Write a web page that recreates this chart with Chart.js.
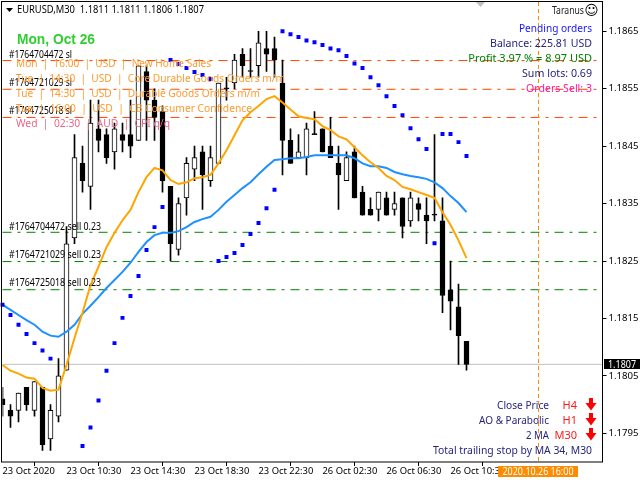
<!DOCTYPE html>
<html>
<head>
<meta charset="utf-8">
<style>html,body{margin:0;padding:0;background:#fff}canvas{display:block}</style>
<script src="https://cdn.jsdelivr.net/npm/chart.js@4"></script>
</head>
<body>
<canvas id="c" width="640" height="480"></canvas>
<script>
const opens  = [1.1801,1.1799,1.1799,1.1803,1.1799,1.1803,1.1794,1.1798,1.1806,1.1829,1.1842,1.1838,1.1848,1.1847,1.1844,1.1847,1.1847,1.1846,1.1858,1.1853,1.1851,1.1838,1.1827,1.1836,1.1841,1.1844,1.1839,1.1842,1.1855,1.1856,1.1861,1.1858,1.1859,1.1862,1.1862,1.1856,1.1846,1.1843,1.1843,1.1847,1.1848,1.1845,1.1842,1.1839,1.1844,1.1837,1.1834,1.1834,1.1836,1.1834,1.1836,1.1832,1.1835,1.1833,1.1833,1.1832,1.1820,1.1817,1.1811];
const highs  = [1.1803,1.1800,1.1802,1.1803,1.1804,1.1803,1.1800,1.1808,1.1831,1.1847,1.1845,1.1853,1.1853,1.1848,1.1849,1.1849,1.1853,1.1859,1.1859,1.1855,1.1852,1.1838,1.1836,1.1843,1.1845,1.1845,1.1845,1.1856,1.1857,1.1861,1.1862,1.1862,1.1865,1.1865,1.1864,1.1860,1.1848,1.1847,1.1849,1.1851,1.1848,1.1850,1.1845,1.1844,1.1845,1.1838,1.1836,1.1837,1.1837,1.1837,1.1836,1.1837,1.1836,1.1836,1.1847,1.1836,1.1825,1.1821,1.1811];
const lows   = [1.1798,1.1796,1.1797,1.1799,1.1798,1.1792,1.1792,1.1797,1.1806,1.1828,1.1837,1.1834,1.1844,1.1842,1.1841,1.1844,1.1843,1.1846,1.1846,1.1846,1.1837,1.1825,1.1826,1.1833,1.1839,1.1834,1.1838,1.1842,1.1853,1.1855,1.1857,1.1857,1.1857,1.1858,1.1857,1.1840,1.1842,1.1843,1.1840,1.1847,1.1844,1.1843,1.1834,1.1839,1.1836,1.1833,1.1833,1.1832,1.1833,1.1833,1.1829,1.1831,1.1832,1.1828,1.1832,1.1816,1.1813,1.1807,1.1806];
const closes = [1.1800,1.1798,1.1802,1.1800,1.1804,1.1793,1.1799,1.1805,1.1828,1.1843,1.1839,1.1849,1.1846,1.1843,1.1848,1.1846,1.1845,1.1859,1.1853,1.1850,1.1839,1.1828,1.1835,1.1842,1.1843,1.1840,1.1843,1.1856,1.1855,1.1860,1.1859,1.1858,1.1863,1.1861,1.1860,1.1846,1.1842,1.1844,1.1848,1.1847,1.1844,1.1843,1.1840,1.1843,1.1836,1.1833,1.1833,1.1837,1.1833,1.1835,1.1831,1.1836,1.1834,1.1832,1.1833,1.1819,1.1818,1.1812,1.1807];
const maFast = [1.18069,1.18059,1.18054,1.18047,1.18045,1.18029,1.18024,1.18026,1.18069,1.18116,1.18160,1.18208,1.18240,1.18274,1.18299,1.18321,1.18339,1.18370,1.18396,1.18412,1.18408,1.18391,1.18384,1.18387,1.18394,1.18396,1.18400,1.18420,1.18443,1.18469,1.18495,1.18509,1.18520,1.18532,1.18537,1.18526,1.18514,1.18502,1.18499,1.18497,1.18485,1.18478,1.18467,1.18462,1.18448,1.18434,1.18422,1.18412,1.18398,1.18391,1.18379,1.18375,1.18370,1.18365,1.18360,1.18335,1.18313,1.18286,1.18255];
const maSlow = [1.18174,1.18165,1.18156,1.18147,1.18139,1.18127,1.18120,1.18118,1.18127,1.18139,1.18158,1.18172,1.18187,1.18203,1.18217,1.18231,1.18247,1.18266,1.18283,1.18295,1.18299,1.18299,1.18302,1.18309,1.18318,1.18323,1.18327,1.18339,1.18353,1.18365,1.18377,1.18387,1.18401,1.18414,1.18426,1.18427,1.18429,1.18429,1.18431,1.18434,1.18434,1.18434,1.18434,1.18434,1.18429,1.18420,1.18415,1.18415,1.18412,1.18405,1.18401,1.18398,1.18396,1.18393,1.18387,1.18377,1.18363,1.18351,1.18335];
const sar    = [1.18174,1.18156,1.18139,1.18123,1.18107,1.18094,1.18080,null,null,null,1.17928,1.17960,1.18007,1.18059,1.18107,1.18151,1.18189,1.18224,1.18269,1.18309,1.18344,1.18600,1.18593,1.18586,1.18579,1.18574,1.18567,1.18250,1.18257,1.18264,1.18278,1.18297,1.18316,1.18342,1.18374,1.18650,1.18645,1.18640,1.18634,1.18631,1.18626,1.18620,1.18617,1.18607,1.18594,1.18586,1.18570,1.18556,1.18537,1.18520,1.18504,1.18481,1.18462,1.18445,1.18281,1.18471,1.18471,1.18457,1.18433];
const stopLevels = [1.18599,1.18549,1.18500];
const sellLevels = [1.18300,1.18249,1.18200];
const currentPrice = 1.1807;
const yTicks = [1.1865,1.1855,1.1845,1.1835,1.1825,1.1815,1.1805,1.1795];
const xTickLabels = ['23 Oct 2020','23 Oct 10:30','23 Oct 14:30','23 Oct 18:30','23 Oct 22:30','26 Oct 02:30','26 Oct 06:30','26 Oct 10:30'];
const barsFri = ['06:30','07:00','07:30','08:00','08:30','09:00','09:30','10:00','10:30','11:00','11:30','12:00','12:30','13:00','13:30','14:00','14:30','15:00','15:30','16:00','16:30','17:00','17:30','18:00','18:30','19:00','19:30','20:00','20:30','21:00','21:30','22:00','22:30','23:00','23:30'];
const barsMon = ['00:00','00:30','01:00','01:30','02:00','02:30','03:00','03:30','04:00','04:30','05:00','05:30','06:00','06:30','07:00','07:30','08:00','08:30','09:00','09:30','10:00','10:30','11:00','11:30','12:00','12:30','13:00','13:30','14:00','14:30','15:00','15:30','16:00','16:30','17:00','17:30','18:00','18:30','19:00','19:30','20:00'];
const categories = barsFri.map(t=>'23 Oct '+t).concat(barsMon.map(t=>'26 Oct '+t));
const eventBar = '26 Oct 16:00';
const eventLabel = '2020.10.26 16:00';
const titleText = 'EURUSD,M30  1.1811 1.1811 1.1806 1.1807';
const dayText = 'Mon, Oct 26';
const slTexts = ['#1764704472 sl','#1764721029 sl','#1764725018 sl'];
const sellTexts = ['#1764704472 sell 0.23','#1764721029 sell 0.23','#1764725018 sell 0.23'];
const newsTexts = ['Mon  |  16:00  |  USD  |  New Home Sales','Tue  |  14:30  |  USD  |  Core Durable Goods Orders m/m','Tue  |  14:30  |  USD  |  Durable Goods Orders m/m','Tue  |  16:00  |  USD  |  CB Consumer Confidence','Wed  |  02:30  |  AUD  |  CPI q/q'];
const accountTexts = ['Pending orders','Balance: 225.81 USD','Profit 3.97 % = 8.97 USD','Sum lots: 0.69','Orders Sell: 3'];
const signalNames = ['Close Price','AO & Parabolic','2 MA'];
const signalFrames = ['H4','H1','M30'];
const trailText = 'Total trailing stop by MA 34, M30';
const expertName = 'Taranus';

const FONT = '"Noto Sans", sans-serif';
const RED='#ff4500', GREEN='#008000', NAVY='#25257f';

function hline(v,color,dash){return {type:'line',data:[{x:categories[0],y:v},{x:categories[categories.length-1],y:v}],borderColor:color,borderWidth:1,borderDash:dash,pointRadius:0,order:6};}
const DASHDOT=[9,6,3,6];

const overlay = {
  id:'overlay',
  afterDatasetsDraw(chart){
    const c=chart.ctx, y=chart.scales.y;
    const T=(s,x,py,al,col,font,w)=>{c.font=font||('11px '+FONT);c.textAlign=al||'left';c.textBaseline='middle';c.fillStyle=col||'#000';if(w)c.fillText(s,x,py,w);else c.fillText(s,x,py);};
    const F=null;
    c.save();
    c.strokeStyle='#000';c.lineWidth=1;c.strokeRect(1.5,1.5,601,460.5);
    c.fillStyle='#000';c.beginPath();c.moveTo(6,8);c.lineTo(13,8);c.lineTo(9.5,12);c.closePath();c.fill();
    c.fillStyle='#c0c0c0';c.beginPath();c.moveTo(476,2);c.lineTo(485,2);c.lineTo(480.5,7);c.closePath();c.fill();
    T(titleText,17,10,'left','#000',F,187);
    T(dayText,17,40,'left','#32cd32','bold 14px "Liberation Sans"',78);
    slTexts.forEach((s,i)=>T(s,9,[55,83,111][i],'left','#000',F,63));
    const newsW=[195,269,244,236,154];
    newsTexts.forEach((s,i)=>T(s,16,64+15*i,'left',i<4?'#ff9a2e':'#e8688a',F,newsW[i]));
    sellTexts.forEach((s,i)=>T(s,9,[227,255,283][i],'left','#000',F,92));
    const acol=['#1414ff',NAVY,GREEN,NAVY,'#ff1493'], acW=[73,102,125,70,66];
    accountTexts.forEach((s,i)=>T(s,592,29+15*i,'right',acol[i],F,acW[i]));
    T(expertName,584,11,'right','#222',F,32);
    T('\u263A',591.5,11,'center','#000','14px "DejaVu Sans"');
    const sW=[52,70,23];
    signalNames.forEach((s,i)=>{
      const py=406+15*i;
      T(s,549,py,'right',NAVY,F,sW[i]);
      T(signalFrames[i],577,py,'right','#ff1a1a');
      const ax=591;
      c.fillStyle='#ff0000';c.beginPath();
      c.moveTo(ax-2,py-8);c.lineTo(ax+2,py-8);c.lineTo(ax+2,py-3);c.lineTo(ax+5.5,py-3);c.lineTo(ax,py+4.5);c.lineTo(ax-5.5,py-3);c.lineTo(ax-2,py-3);c.closePath();c.fill();
    });
    T(trailText,592,451,'right',NAVY,F,159);
    const py=y.getPixelForValue(currentPrice);
    c.fillStyle='#000';c.fillRect(604,Math.round(py)-5,36,10);
    T(currentPrice.toFixed(4),608,py,'left','#fff',F,28);
    c.fillStyle='#ff8c00';c.fillRect(498,466,80,11);
    T(eventLabel,538,471.5,'center','#fff',F,71);
    c.restore();
  }
};

new Chart(document.getElementById('c'),{
  type:'bar',
  data:{labels:categories,datasets:[
    hline(currentPrice,'#c0c0c0',[]),
    ...stopLevels.map(v=>hline(v,RED,DASHDOT)),
    ...sellLevels.map(v=>hline(v,GREEN,DASHDOT)),
    {type:'line',data:[{x:eventBar,y:1.18701},{x:eventBar,y:1.17900}],borderColor:'#ff8c00',borderWidth:1,borderDash:[4,3],pointRadius:0,order:5},
    {type:'bar',data:lows.map((l,i)=>[l,highs[i]]),backgroundColor:'#000',borderWidth:0,barThickness:1,grouped:false,order:4},
    {type:'bar',data:opens.map((o,i)=>[o,closes[i]]),backgroundColor:opens.map((o,i)=>closes[i]>o?'#fff':'#000'),borderColor:'#000',borderWidth:1,borderSkipped:false,barThickness:5,minBarLength:1,grouped:false,order:3},
    {type:'line',data:maFast,borderColor:'#ffa500',borderWidth:2,pointRadius:0,tension:0,order:2},
    {type:'line',data:maSlow,borderColor:'#1e90ff',borderWidth:2,pointRadius:0,tension:0,order:2},
    {type:'line',data:sar,showLine:false,pointStyle:'rect',pointRadius:2.8,pointBackgroundColor:'#0000ff',pointBorderWidth:0,order:1}
  ]},
  options:{
    responsive:false,animation:false,devicePixelRatio:1,
    layout:{autoPadding:false,padding:{left:2.5,top:2,right:0,bottom:0}},
    plugins:{legend:{display:false},tooltip:{enabled:false},title:{display:false}},
    scales:{
      x:{type:'category',offset:false,
        grid:{display:true,drawOnChartArea:false,drawTicks:true,tickLength:4,color:'#000'},
        border:{display:false},
        afterFit(s){s.height=18;s.paddingLeft=0;s.paddingRight=0;s.paddingTop=0;s.paddingBottom=0;},
        afterBuildTicks(s){s.ticks=s.ticks.filter(t=>t.value%8===0&&t.value<=56);},
        ticks:{autoSkip:false,maxRotation:0,minRotation:0,align:'start',padding:0,color:'#000',font:{family:'Noto Sans',size:9.4},
          callback(v){return xTickLabels[v/8];}}
      },
      y:{type:'linear',position:'right',min:1.17900,max:1.18701,
        grid:{display:true,drawOnChartArea:false,drawTicks:true,tickLength:4,color:'#000'},
        border:{display:false},
        afterFit(s){s.width=37.5;s.paddingLeft=0;s.paddingRight=0;s.paddingTop=0;s.paddingBottom=0;},
        afterBuildTicks(s){s.ticks=yTicks.map(v=>({value:v}));},
        ticks:{padding:2,color:'#000',font:{family:'Noto Sans',size:9.6},callback(v){return v.toFixed(4);}}
      }
    }
  },
  plugins:[overlay]
});
</script>
</body>
</html>
